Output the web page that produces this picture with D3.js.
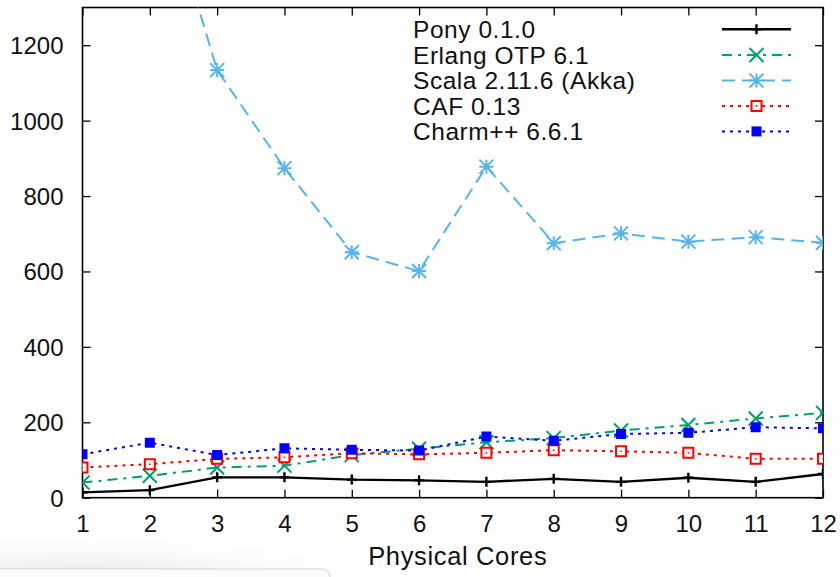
<!DOCTYPE html>
<html>
<head>
<meta charset="utf-8">
<script src="https://cdn.jsdelivr.net/npm/d3@7"></script>
<style>
  html, body { margin: 0; padding: 0; background: #fff; }
  svg { display: block; font-family: "Liberation Sans", Arial, Helvetica, sans-serif; }
</style>
</head>
<body>
<svg id="chart" width="840" height="577"></svg>
<script>
// ---- data ----
const cores = [1, 2, 3, 4, 5, 6, 7, 8, 9, 10, 11, 12];
const pony   = [14, 20, 54, 54, 48, 46, 42, 50, 42, 53, 42, 63];
const erlang = [40, 58, 80, 85, 113, 130, 147, 158, 178, 193, 210, 225];
const scala  = [3000, 1730, 1134, 874, 651, 601, 878, 675, 701, 679, 691, 676];
const caf    = [80, 89, 103, 107, 118, 115, 119, 126, 123, 119, 103, 103];
const charm  = [115, 146, 113, 131, 127, 125, 162, 151, 169, 172, 187, 184];
const seriesNames = ["Pony 0.1.0", "Erlang OTP 6.1", "Scala 2.11.6 (Akka)", "CAF 0.13", "Charm++ 6.6.1"];
const xTicks = [1, 2, 3, 4, 5, 6, 7, 8, 9, 10, 11, 12];
const yTicks = [0, 200, 400, 600, 800, 1000, 1200];
const xLabel = "Physical Cores";

// ---- styles ----
const styles = [
  { values: pony,   color: "#000000", dash: null,         width: 2.4, marker: "plus" },
  { values: erlang, color: "#009e73", dash: "10,6,3,6",   width: 2,   marker: "x" },
  { values: scala,  color: "#56b4e9", dash: "13,7",       width: 2,   marker: "star" },
  { values: caf,    color: "#ff0000", dash: "3,5",        width: 2,   marker: "openSquare" },
  { values: charm,  color: "#0000ff", dash: "3,5",        width: 2,   marker: "fillSquare" }
];

const svg = d3.select("#chart");
const pLeft = 82.5, pRight = 823, pTop = 7.5, pBottom = 497.7;

// screenshot shadow artifact at bottom-left
const defs = svg.append("defs");
const rg = defs.append("radialGradient").attr("id", "shade")
  .attr("cx", "0.2").attr("cy", "1").attr("r", "0.8");
rg.append("stop").attr("offset", "0").attr("stop-color", "#e4e4e4");
rg.append("stop").attr("offset", "1").attr("stop-color", "#ffffff").attr("stop-opacity", 0);
svg.append("rect").attr("x", 0).attr("y", 520).attr("width", 420).attr("height", 57)
  .attr("fill", "url(#shade)");
svg.append("rect").attr("x", -12).attr("y", 569).attr("width", 342).attr("height", 30)
  .attr("rx", 8).attr("fill", "#fbfbfb").attr("stroke", "#d4d4d4").attr("stroke-width", 1);

const x = d3.scaleLinear().domain([1, 12]).range([pLeft, pRight]);
const y = d3.scaleLinear().domain([0, 1300]).range([pBottom, pTop]);

defs.append("clipPath").attr("id", "plotclip")
  .append("rect").attr("x", pLeft).attr("y", pTop)
  .attr("width", pRight - pLeft).attr("height", pBottom - pTop);

const fontSize = 24;

// axes (gnuplot style: inward ticks, mirrored)
const gx = svg.append("g").attr("transform", `translate(0,${pBottom})`)
  .call(d3.axisBottom(x).tickValues(xTicks).tickFormat(d3.format("d"))
    .tickSizeInner(-8).tickSizeOuter(0).tickPadding(17));
const gxt = svg.append("g").attr("transform", `translate(0,${pTop})`)
  .call(d3.axisTop(x).tickValues(xTicks).tickFormat("")
    .tickSizeInner(-8).tickSizeOuter(0));
const gy = svg.append("g").attr("transform", `translate(${pLeft},0)`)
  .call(d3.axisLeft(y).tickValues(yTicks).tickFormat(d3.format("d"))
    .tickSizeInner(-8).tickSizeOuter(0).tickPadding(19));
const gyr = svg.append("g").attr("transform", `translate(${pRight},0)`)
  .call(d3.axisRight(y).tickValues(yTicks).tickFormat("")
    .tickSizeInner(-8).tickSizeOuter(0));

[gx, gxt, gy, gyr].forEach(g => {
  g.select(".domain").remove();
  g.selectAll(".tick line").attr("stroke", "#000").attr("stroke-width", 1.3);
  g.selectAll(".tick text").attr("fill", "#111").style("font-size", fontSize + "px")
    .style("font-family", "'Liberation Sans', Arial, sans-serif");
});
gy.selectAll(".tick text").attr("dy", "0.35em");

// border
svg.append("rect").attr("x", pLeft).attr("y", pTop)
  .attr("width", pRight - pLeft).attr("height", pBottom - pTop)
  .attr("fill", "none").attr("stroke", "#000").attr("stroke-width", 1.6);

// axis label
svg.append("text").attr("x", (pLeft + pRight) / 2 + 5).attr("y", 565)
  .attr("text-anchor", "middle").attr("fill", "#111")
  .style("font-size", "25.5px").style("letter-spacing", "0.65px").text(xLabel);

function markerPath(type, cx, cy) {
  const p = d3.path();
  if (type === "plus") {
    const s = 5;
    p.moveTo(cx - s, cy); p.lineTo(cx + s, cy);
    p.moveTo(cx, cy - s); p.lineTo(cx, cy + s);
  } else if (type === "x") {
    const s = 7;
    p.moveTo(cx - s, cy - s); p.lineTo(cx + s, cy + s);
    p.moveTo(cx - s, cy + s); p.lineTo(cx + s, cy - s);
  } else if (type === "star") {
    const s = 7;
    p.moveTo(cx - s, cy); p.lineTo(cx + s, cy);
    p.moveTo(cx, cy - s); p.lineTo(cx, cy + s);
    p.moveTo(cx - s, cy - s); p.lineTo(cx + s, cy + s);
    p.moveTo(cx - s, cy + s); p.lineTo(cx + s, cy - s);
  } else if (type === "openSquare" || type === "fillSquare") {
    const s = 5;
    p.rect(cx - s, cy - s, 2 * s, 2 * s);
  }
  return p.toString();
}

const plotG = svg.append("g").attr("clip-path", "url(#plotclip)");
const line = d3.line().x((d, i) => x(cores[i])).y(d => y(d));

styles.forEach(st => {
  plotG.append("path").datum(st.values)
    .attr("d", line).attr("fill", "none")
    .attr("stroke", st.color).attr("stroke-width", st.width)
    .attr("stroke-dasharray", st.dash)
    .attr("stroke-linejoin", "miter");
  st.values.forEach((v, i) => {
    const cx = x(cores[i]), cy = y(v);
    const m = plotG.append("path").attr("d", markerPath(st.marker, cx, cy));
    if (st.marker === "fillSquare") {
      m.attr("fill", st.color).attr("stroke", "none");
    } else if (st.marker === "openSquare") {
      m.attr("fill", "#fff").attr("stroke", st.color).attr("stroke-width", 2);
      plotG.append("circle").attr("cx", cx).attr("cy", cy).attr("r", 0.9).attr("fill", st.color);
    } else {
      m.attr("fill", "none").attr("stroke", st.color).attr("stroke-width", st.width);
    }
  });
});

// legend
const legendRowY = [29.3, 55, 80.6, 106, 131.4];
const legG = svg.append("g");
styles.forEach((st, k) => {
  const cy = legendRowY[k];
  legG.append("text").attr("x", 413).attr("y", cy).attr("dy", "0.36em")
    .attr("fill", "#111").style("font-size", "24.5px").style("letter-spacing", "0.55px")
    .text(seriesNames[k]);
  legG.append("line").attr("x1", 722).attr("x2", 791).attr("y1", cy).attr("y2", cy)
    .attr("stroke", st.color).attr("stroke-width", st.width)
    .attr("stroke-dasharray", st.dash);
  const cx = 756.5;
  const m = legG.append("path").attr("d", markerPath(st.marker, cx, cy));
  if (st.marker === "fillSquare") {
    m.attr("fill", st.color);
  } else if (st.marker === "openSquare") {
    m.attr("fill", "#fff").attr("stroke", st.color).attr("stroke-width", 2);
    legG.append("circle").attr("cx", cx).attr("cy", cy).attr("r", 0.9).attr("fill", st.color);
  } else {
    m.attr("fill", "none").attr("stroke", st.color).attr("stroke-width", st.width);
  }
});
</script>
</body>
</html>
